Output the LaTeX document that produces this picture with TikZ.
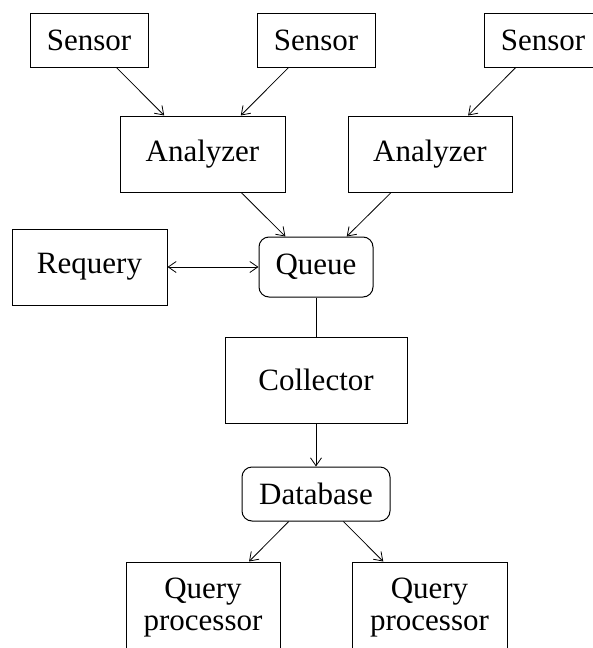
\documentclass[tikz,border=0pt]{standalone}
\usepackage{fontspec}
\setmainfont{Liberation Serif}
\usetikzlibrary{arrows.meta}
\begin{document}
\begin{tikzpicture}[x=1pt,y=-1pt,
  box/.style={draw,line width=1pt,rectangle,inner sep=0pt,font=\fontsize{31}{32}\selectfont,align=center},
  rbox/.style={box,rounded corners=10pt},
  conn/.style={line width=0.8pt},
  arr/.style={conn,-{Straight Barb[length=8pt,width=11pt,line width=0.8pt]}},
  darr/.style={conn,{Straight Barb[length=8pt,width=11pt,line width=0.8pt]}-{Straight Barb[length=8pt,width=11pt,line width=0.8pt]}}]
\useasboundingbox (0,0) rectangle (593,648);
\clip (0,0) rectangle (593,648);
\node[box,minimum width=118pt,minimum height=54pt] (s1) at (89,40) {Sensor};
\node[box,minimum width=118pt,minimum height=54pt] (s2) at (316,40) {Sensor};
\node[box,minimum width=118pt,minimum height=54pt] (s3) at (543,40) {Sensor};
\node[box,minimum width=165pt,minimum height=76pt] (a1) at (202.5,154) {Analyzer};
\node[box,minimum width=164pt,minimum height=76pt] (a2) at (430,154) {Analyzer};
\node[box,minimum width=155pt,minimum height=76pt] (req) at (89.5,267) {Requery};
\node[rbox,minimum width=114pt,minimum height=60pt] (q) at (316,267) {Queue};
\node[box,minimum width=182pt,minimum height=86pt] (coll) at (316,380) {Collector};
\node[rbox,minimum width=148pt,minimum height=54pt] (db) at (316,494) {Database};
\node[box,minimum width=154pt,minimum height=92pt] (qp1) at (203,608) {Query\\processor};
\node[box,minimum width=155pt,minimum height=92pt] (qp2) at (429.5,608) {Query\\processor};
\draw[arr] (s1) -- (a1);
\draw[arr] (s2) -- (a1);
\draw[arr] (s3) -- (a2);
\draw[arr] (a1) -- (q);
\draw[arr] (a2) -- (q);
\draw[darr] (req) -- (q);
\draw[conn] (q) -- (coll);
\draw[arr] (coll) -- (db);
\draw[arr] (db) -- (qp1);
\draw[arr] (db) -- (qp2);
\end{tikzpicture}
\end{document}
